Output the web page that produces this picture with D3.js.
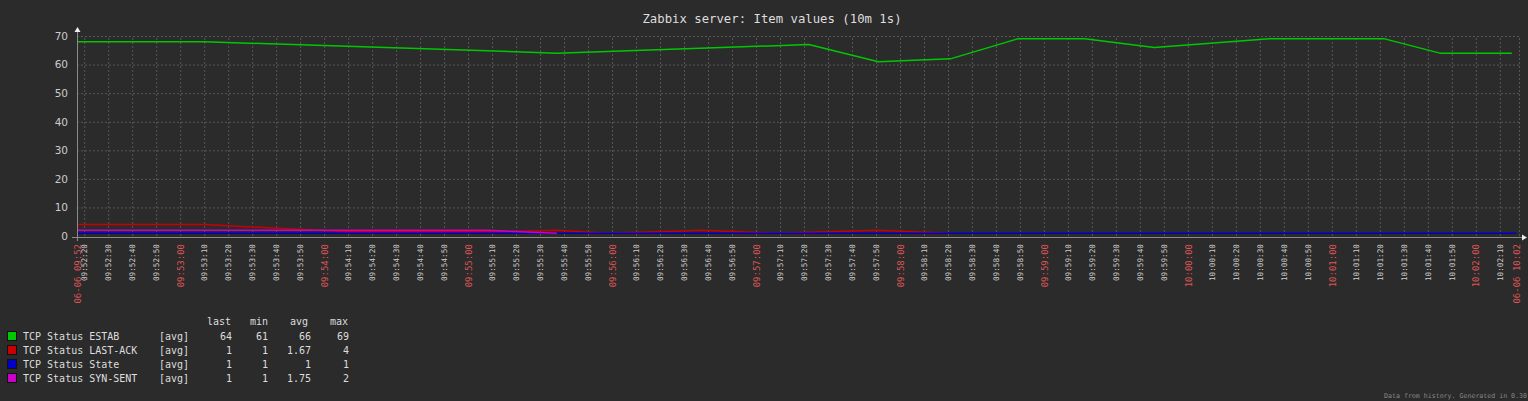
<!DOCTYPE html>
<html>
<head>
<meta charset="utf-8">
<script src="https://cdn.jsdelivr.net/npm/d3@7"></script>
<style>
html,body{margin:0;padding:0;background:#2b2b2b;}
svg{display:block;}
</style>
</head>
<body>
<script>
// ---- data ----
const title = "Zabbix server: Item values (10m 1s)";
const timeStart = "09:52:17";
const timeEnd = "10:02:18";
const startLabel = "06-06 09:52";
const endLabel = "06-06 10:02";
const yTicks = [0, 10, 20, 30, 40, 50, 60, 70];

const seriesNames = ["TCP Status ESTAB", "TCP Status LAST-ACK", "TCP Status State", "TCP Status SYN-SENT"];
const seriesColors = ["#00C800", "#C80000", "#0000C8", "#C800C8"];

const estabTimes = ["09:52:17","09:53:10","09:55:37","09:57:22","09:57:51","09:58:21","09:58:49","09:59:17","09:59:46","10:00:34","10:01:22","10:01:45","10:02:15"];
const estabValues = [68, 68, 64, 67, 61, 62, 69, 69, 66, 69, 69, 64, 64];

const lastAckTimes = ["09:52:17","09:53:10","09:54:10","09:55:15","09:55:37","09:55:58","09:56:38","09:57:08","09:57:51","09:58:20"];
const lastAckValues = [4, 4, 1.5, 1.5, 2, 1, 2, 1, 2, 1];

const stateTimes = ["09:52:17","10:02:17"];
const stateValues = [1, 1];

const synTimes = ["09:52:17","09:55:08","09:55:37"];
const synValues = [2, 2, 1];

const legendHeaders = ["last", "min", "avg", "max"];
const legendFunc = ["[avg]", "[avg]", "[avg]", "[avg]"];
const legendLast = ["64", "1", "1", "1"];
const legendMin = ["61", "1", "1", "1"];
const legendAvg = ["66", "1.67", "1", "1.75"];
const legendMax = ["69", "4", "1", "2"];
const footer = "Data from history. Generated in 0.30";

// ---- layout ----
const W = 1528, H = 401;
const plotL = 77, plotR = 1519, plotT = 36, plotB = 236;
const mono = "'DejaVu Sans Mono', monospace";
const txt = "#dddddd";

const parse = d3.timeParse("%H:%M:%S");
const fmt = d3.timeFormat("%H:%M:%S");

const x = d3.scaleTime().domain([parse(timeStart), parse(timeEnd)]).range([plotL, plotR]);
const y = d3.scaleLinear().domain([0, 70]).range([plotB, plotT]);

const svg = d3.select("body").append("svg").attr("width", W).attr("height", H);
svg.append("rect").attr("width", W).attr("height", H).attr("fill", "#2b2b2b");

// title
svg.append("text").attr("x", 772).attr("y", 23).attr("text-anchor", "middle")
  .attr("fill", txt).style("font-family", mono).style("font-size", "12.3px").text(title);

// horizontal grid
const yGrid = svg.append("g").attr("transform", `translate(${plotL},0)`)
  .call(d3.axisLeft(y).tickValues(yTicks.filter(v => v > 0)).tickSize(-(plotR - plotL)).tickFormat(""));
yGrid.select(".domain").remove();
yGrid.selectAll("line").attr("stroke", "#575757").attr("stroke-dasharray", "2,2");

// vertical grid
const tickTimes = x.ticks(d3.timeSecond.every(10));
const xGrid = svg.append("g").attr("transform", `translate(0,${plotB})`)
  .call(d3.axisBottom(x).tickValues(tickTimes.concat([parse(timeEnd)])).tickSize(-(plotB - plotT)).tickFormat(""));
xGrid.select(".domain").remove();
xGrid.selectAll("line").attr("stroke", "#575757").attr("stroke-dasharray", "2,2");

// series lines
const series = [
  {t: estabTimes, v: estabValues, c: seriesColors[0]},
  {t: lastAckTimes, v: lastAckValues, c: seriesColors[1]},
  {t: stateTimes, v: stateValues, c: seriesColors[2]},
  {t: synTimes, v: synValues, c: seriesColors[3]}
];
const line = d3.line().x(d => x(d[0])).y(d => y(d[1]));
series.forEach(s => {
  const pts = s.t.map((t, i) => [parse(t), s.v[i]]);
  svg.append("path").attr("d", line(pts)).attr("fill", "none")
    .attr("stroke", s.c).attr("stroke-width", 1.5).attr("stroke-linejoin", "round");
});

// axes lines
svg.append("line").attr("x1", plotL + 0.5).attr("x2", plotL + 0.5).attr("y1", 31).attr("y2", 241)
  .attr("stroke", "#8a8a8a").attr("stroke-width", 1);
svg.append("line").attr("x1", 72).attr("x2", plotR + 3).attr("y1", 237.5).attr("y2", 237.5)
  .attr("stroke", "#8a8a8a").attr("stroke-width", 1);
svg.append("path").attr("d", `M${plotL + 0.5},27 L${plotL - 2.5},32 L${plotL + 3.5},32 Z`).attr("fill", "#eeeeee");
svg.append("path").attr("d", `M${plotR + 8},237.5 L${plotR + 3},234.5 L${plotR + 3},240.5 Z`).attr("fill", "#eeeeee");

// y axis labels
const yAx = svg.append("g").attr("transform", `translate(${plotL - 9},0)`)
  .call(d3.axisLeft(y).tickValues(yTicks).tickSize(0).tickPadding(0));
yAx.select(".domain").remove();
yAx.selectAll("text").attr("fill", "#cccccc").style("font-family", "'DejaVu Sans', sans-serif").style("font-size", "10.5px");

// x axis labels
const xAx = svg.append("g").attr("transform", `translate(0,237)`)
  .call(d3.axisBottom(x).tickValues(tickTimes).tickSize(0).tickFormat(d => fmt(d)));
xAx.select(".domain").remove();
xAx.selectAll("text")
  .attr("transform", "rotate(-90)")
  .attr("text-anchor", "end")
  .attr("x", -7).attr("y", 0).attr("dy", "0.35em")
  .style("font-family", mono)
  .each(function(d) {
    const isMin = d.getSeconds() === 0;
    d3.select(this).attr("fill", isMin ? "#dd5555" : "#cccccc")
      .style("font-size", isMin ? "9px" : "7.7px");
  });

// edge labels
const edge = svg.append("g").attr("transform", `translate(0,237)`)
  .call(d3.axisBottom(x).tickValues([parse(timeStart), parse("10:02:17")]).tickSize(0)
    .tickFormat((d, i) => i === 0 ? startLabel : endLabel));
edge.select(".domain").remove();
edge.selectAll("text")
  .attr("transform", "rotate(-90)").attr("text-anchor", "end")
  .attr("x", -7).attr("y", 0).attr("dy", "0.35em")
  .attr("fill", "#dd5555").style("font-family", mono).style("font-size", "9px");

// legend
const lg = svg.append("g").style("font-family", mono).style("font-size", "10px");
const headX = [231, 268, 308, 348];
legendHeaders.forEach((h, j) => {
  lg.append("text").attr("x", headX[j]).attr("y", 325).attr("text-anchor", "end").attr("fill", txt).text(h);
});
seriesNames.forEach((name, i) => {
  const cy = 336 + i * 14;
  lg.append("rect").attr("x", 7.5).attr("y", cy - 4.5).attr("width", 9).attr("height", 9)
    .attr("fill", seriesColors[i]).attr("stroke", "#111").attr("stroke-width", 1);
  const row = [[23, "start", name], [159, "start", legendFunc[i]], [232, "end", legendLast[i]],
               [268, "end", legendMin[i]], [311, "end", legendAvg[i]], [349, "end", legendMax[i]]];
  row.forEach(r => {
    lg.append("text").attr("x", r[0]).attr("y", cy + 3.5).attr("text-anchor", r[1]).attr("fill", txt).text(r[2]);
  });
});

// footer
svg.append("text").attr("x", 1527).attr("y", 398).attr("text-anchor", "end")
  .attr("fill", "#888888").style("font-family", mono).style("font-size", "6.6px").text(footer);
</script>
</body>
</html>
